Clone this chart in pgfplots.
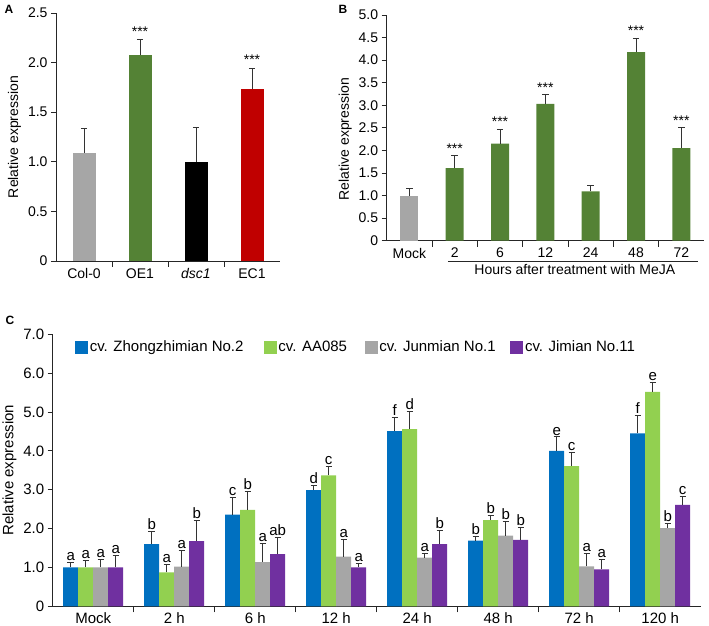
\documentclass[border=0pt]{standalone}
\usepackage{fontspec}
\setmainfont{Liberation Sans}
\usepackage{pgfplots}
\usepackage{pgfplotstable}
\pgfplotsset{compat=1.18}
\definecolor{cgray}{HTML}{A6A6A6}
\definecolor{cgreenA}{HTML}{548235}
\definecolor{cred}{HTML}{C00000}
\definecolor{cblue}{HTML}{0070C0}
\definecolor{cgreen}{HTML}{92D050}
\definecolor{cpurple}{HTML}{7030A0}
% Panel C data: value, error (upper) and significance letter for each cultivar
\pgfplotstableread{
x b   be   bl g    ge   gl k    ke   kl p    pe   pl
0 1.00 0.13 a 1.00 0.17 a 1.00 0.21 a 1.00 0.32 a
1 1.60 0.34 b 0.87 0.21 a 1.02 0.41 a 1.68 0.52 b
2 2.36 0.44 c 2.48 0.47 b 1.14 0.49 a 1.34 0.44 ab
3 2.99 0.12 d 3.37 0.23 c 1.28 0.45 a 1.00 0.11 a
4 4.51 0.35 f 4.56 0.46 d 1.25 0.11 a 1.60 0.36 b
5 1.69 0.10 b 2.22 0.13 b 1.82 0.37 b 1.71 0.32 b
6 4.00 0.36 e 3.61 0.35 c 1.03 0.33 a 0.95 0.25 a
7 4.45 0.46 f 5.52 0.24 e 2.01 0.12 b 2.61 0.21 c
}\dataC
\pgfplotsset{
  panel/.style={
    scale only axis,
    axis x line*=bottom, axis y line*=left,
    axis line style={line width=0.8pt, black!85},
    tick align=outside,
    major tick length=5pt, minor tick length=6pt,
    tick style={black!85, line width=0.8pt},
    major x tick style={draw=none},
    /pgf/number format/assume math mode=true,
    ymin=0,
    clip=false,
  },
  eb/.style={error bars/.cd, y dir=plus, y explicit, error mark=-,
    error bar style={draw=black!80, line width=0.8pt},
    error mark options={rotate=90, draw=black!80, line width=0.8pt, mark size=3.2pt}},
  errplot/.style={draw=none, mark=none, forget plot, eb},
  lbl/.style={draw=none, mark=none, forget plot, nodes near coords, point meta=explicit symbolic,
    nodes near coords style={anchor=south, inner sep=1.5pt, font=#1}},
}
\newcommand\fA{\fontsize{14}{16}\selectfont}
\newcommand\fC{\fontsize{15}{17}\selectfont}
\begin{document}
\begin{tikzpicture}
\useasboundingbox (0,0) rectangle (709pt,626pt);
\node[font=\bfseries\fontsize{12}{14}\selectfont] at (9pt,617pt) {A};
\node[font=\bfseries\fontsize{12}{14}\selectfont] at (343pt,617pt) {B};
\node[font=\bfseries\fontsize{12}{14}\selectfont] at (10pt,306pt) {C};
% ---------------- Panel A
\begin{axis}[panel, at={(56pt,365pt)}, anchor=south west,
  width=224pt, height=248pt,
  xmin=-0.5, xmax=3.5, ymax=2.5,
  xtick={0,1,2,3}, xticklabels={Col-0,OE1,\textit{dsc1},EC1},
  minor xtick={0.5,1.5,2.5},
  ytick={0,0.5,1,1.5,2,2.5}, yticklabels={0,0.5,1.0,1.5,2.0,2.5},
  tick label style={font=\fA}, label style={font=\fA},
  xticklabel style={inner ysep=2.5pt},
  ylabel={Relative expression},
]
\addplot[ybar, bar width=23pt, fill=cgray, draw=none] coordinates {(0,1.09)};
\addplot[ybar, bar width=23pt, fill=cgreenA, draw=none] coordinates {(1,2.08)};
\addplot[ybar, bar width=23pt, fill=black, draw=none] coordinates {(2,1.00)};
\addplot[ybar, bar width=23pt, fill=cred, draw=none] coordinates {(3,1.73)};
\addplot[errplot] coordinates {(0,1.09) +- (0,0.25) (1,2.08) +- (0,0.15) (2,1.00) +- (0,0.35) (3,1.73) +- (0,0.215)};
\addplot[lbl=\fA] coordinates {(1,2.25) [***] (3,1.96) [***]};
\end{axis}
% ---------------- Panel B
\begin{axis}[panel, at={(386.7pt,385.3pt)}, anchor=south west,
  width=317.3pt, height=225.7pt,
  xmin=-0.5, xmax=6.5, ymax=5,
  xtick={0,...,6}, xticklabels={Mock,2,6,12,24,48,72},
  minor xtick={0.5,1.5,2.5,3.5,4.5,5.5},
  ytick={0,0.5,1,1.5,2,2.5,3,3.5,4,4.5,5},
  yticklabels={0,0.5,1.0,1.5,2.0,2.5,3.0,3.5,4.0,4.5,5.0},
  tick label style={font=\fA}, label style={font=\fA},
  xticklabel style={inner ysep=2pt},
  ylabel={Relative expression}, ylabel style={at={(ticklabel cs:0.45)}},
]
\addplot[ybar, bar width=18pt, fill=cgray, draw=none] coordinates {(0,0.99)};
\addplot[ybar, bar width=18pt, fill=cgreenA, draw=none] coordinates {
 (1,1.61) (2,2.15) (3,3.03) (4,1.09) (5,4.18) (6,2.05)};
\addplot[errplot] coordinates {(0,0.99) +- (0,0.16)
 (1,1.61) +- (0,0.27) (2,2.15) +- (0,0.32) (3,3.03) +- (0,0.20)
 (4,1.09) +- (0,0.13) (5,4.18) +- (0,0.30) (6,2.05) +- (0,0.45)};
\addplot[lbl=\fA] coordinates {(1,1.90)[***] (2,2.49)[***] (3,3.25)[***] (5,4.50)[***] (6,2.52)[***]};
\draw[line width=0.7pt, black!85] ([yshift=-21pt]axis cs:0.85,0) -- ([yshift=-21pt]axis cs:6.37,0);
\node[font=\fA, anchor=north, inner sep=1pt] at ([yshift=-22pt]axis cs:3.65,0) {Hours after treatment with MeJA};
\end{axis}
% ---------------- Panel C
\begin{axis}[panel, at={(52.7pt,19.7pt)}, anchor=south west,
  width=648pt, height=272pt,
  xmin=-0.5, xmax=7.5, ymax=7,
  xtick={0,...,7}, xticklabels={Mock,2 h,6 h,12 h,24 h,48 h,72 h,120 h},
  minor xtick={0.5,1.5,2.5,3.5,4.5,5.5,6.5},
  ytick={0,1,2,3,4,5,6,7}, yticklabels={0,1.0,2.0,3.0,4.0,5.0,6.0,7.0},
  tick label style={font=\fC}, label style={font=\fC},
  xticklabel style={inner ysep=1pt},
  ylabel={Relative expression},
  legend columns=4,
  legend style={draw=none, fill=none, at={(0.034,0.953)}, anchor=west, font=\fC,
    inner sep=0pt, nodes={inner xsep=2.5pt}, /tikz/column sep=0pt},
]
\addlegendimage{legend image code/.code={\fill[cblue] (0pt,-6pt) rectangle (12pt,6pt);}}
\addlegendentry{cv. Zhongzhimian No.2\hspace*{17.5pt}}
\addlegendimage{legend image code/.code={\fill[cgreen] (0pt,-6pt) rectangle (12pt,6pt);}}
\addlegendentry{cv. AA085\hspace*{15pt}}
\addlegendimage{legend image code/.code={\fill[cgray] (0pt,-6pt) rectangle (12pt,6pt);}}
\addlegendentry{cv. Junmian No.1\hspace*{12pt}}
\addlegendimage{legend image code/.code={\fill[cpurple] (0pt,-6pt) rectangle (12pt,6pt);}}
\addlegendentry{cv. Jimian No.11}
% bars
\addplot[ybar, bar width=15pt, bar shift=-22.5pt, fill=cblue, draw=none, forget plot] table[x=x, y=b] {\dataC};
\addplot[ybar, bar width=15pt, bar shift=-7.5pt, fill=cgreen, draw=none, forget plot] table[x=x, y=g] {\dataC};
\addplot[ybar, bar width=15pt, bar shift=7.5pt, fill=cgray, draw=none, forget plot] table[x=x, y=k] {\dataC};
\addplot[ybar, bar width=15pt, bar shift=22.5pt, fill=cpurple, draw=none, forget plot] table[x=x, y=p] {\dataC};
% error bars (placed at the bar centres: 22.5pt = 0.2778 and 7.5pt = 0.0926 category units)
\addplot[errplot] table[x expr=\thisrow{x}-0.2778, y=b, y error=be] {\dataC};
\addplot[errplot] table[x expr=\thisrow{x}-0.0926, y=g, y error=ge] {\dataC};
\addplot[errplot] table[x expr=\thisrow{x}+0.0926, y=k, y error=ke] {\dataC};
\addplot[errplot] table[x expr=\thisrow{x}+0.2778, y=p, y error=pe] {\dataC};
% significance letters
\addplot[lbl=\fC] table[x expr=\thisrow{x}-0.2778, y expr=\thisrow{b}+\thisrow{be}, meta=bl] {\dataC};
\addplot[lbl=\fC] table[x expr=\thisrow{x}-0.0926, y expr=\thisrow{g}+\thisrow{ge}, meta=gl] {\dataC};
\addplot[lbl=\fC] table[x expr=\thisrow{x}+0.0926, y expr=\thisrow{k}+\thisrow{ke}, meta=kl] {\dataC};
\addplot[lbl=\fC] table[x expr=\thisrow{x}+0.2778, y expr=\thisrow{p}+\thisrow{pe}, meta=pl] {\dataC};
\end{axis}
\end{tikzpicture}
\end{document}
